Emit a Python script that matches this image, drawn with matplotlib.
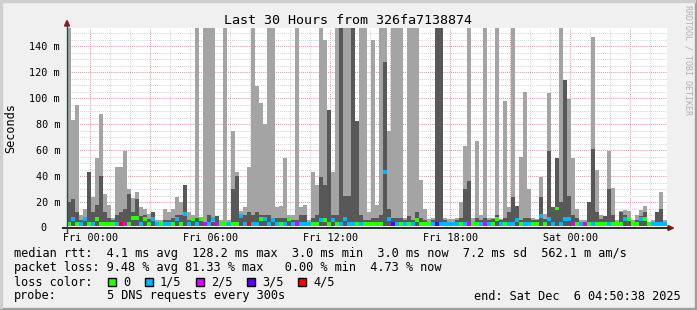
import numpy as np
import matplotlib
matplotlib.use("Agg")
import matplotlib.pyplot as plt
from matplotlib.patches import Rectangle, Polygon
from matplotlib.lines import Line2D

W, H = 697, 310
MONO = "DejaVu Sans Mono"
plt.rcParams["font.family"] = [MONO]

# one column = 12 minutes, graph starts Thu 22:50:38
STEP_H = 0.2
FRI_0 = 1 + 9.37 / 60

# smoke: top of outer band (max ping) and inner band, ms
smoke_max = [155, 83, 95, 10, 15, 43, 24, 54, 88, 26, 18, 8, 47, 47, 59, 30, 23, 28, 16, 15, 11, 12, 6, 6, 15,
             12, 15, 24, 20, 33, 12, 10, 155, 8, 155, 155, 155, 9, 6, 155, 6, 75, 43, 13, 16, 47, 155, 109, 96, 80,
             155, 155, 16, 17, 54, 10, 10, 155, 16, 18, 6, 43, 33, 155, 145, 91, 43, 155, 155, 155, 155, 155, 82, 155, 155,
             12, 145, 18, 155, 155, 75, 155, 155, 155, 8, 155, 155, 155, 37, 15, 7, 8, 155, 155, 8, 7, 7, 8, 20, 63,
             155, 8, 67, 10, 155, 8, 8, 155, 7, 98, 16, 155, 17, 55, 105, 30, 8, 7, 39, 11, 104, 16, 54, 155, 114,
             99, 54, 15, 6, 6, 20, 147, 45, 10, 9, 59, 31, 6, 13, 14, 13, 6, 10, 14, 17, 5, 6, 12, 28, 6]
smoke_mid = [20, 22, 12, 6, 8, 43, 12, 18, 40, 12, 8, 6, 10, 12, 15, 26, 12, 22, 9, 10, 7, 12, 5, 5, 6,
             6, 8, 10, 10, 33, 6, 6, 8, 6, 5, 10, 5, 9, 5, 5, 5, 30, 40, 9, 10, 12, 10, 12, 10, 10,
             10, 8, 8, 8, 8, 6, 6, 6, 10, 10, 5, 8, 10, 39, 33, 91, 10, 10, 155, 25, 25, 155, 82, 10, 6,
             6, 8, 8, 10, 128, 15, 8, 8, 8, 6, 9, 6, 12, 8, 6, 5, 6, 155, 155, 6, 5, 5, 6, 8, 30,
             36, 5, 8, 6, 8, 6, 7, 10, 6, 8, 12, 24, 17, 6, 8, 8, 6, 6, 24, 7, 59, 16, 54, 20, 114,
             25, 10, 8, 5, 5, 20, 61, 12, 7, 9, 30, 10, 5, 12, 10, 8, 5, 6, 9, 12, 5, 5, 12, 15, 5]
median = [3.3, 7, 3.3, 3.3, 7, 3.3, 3.3, 7, 3.3, 3.3, 3.3, 3.3, 3.3, 3.3, 3.3, 3.3, 8, 8, 3.3, 7, 3.3, 7, 3.3, 3.3, 3.3,
          3.3, 3.3, 7, 3.3, 11, 3.3, 7, 3.3, 7, 3.3, 3.3, 7, 3.3, 3.3, 3.3, 3.3, 3.3, 3.3, 9, 3.3, 3.3, 3.3, 3.3, 7, 7,
          3.3, 6, 3.3, 3.3, 3.3, 7, 3.3, 3.3, 3.3, 3.3, 3.3, 3.3, 3.3, 6, 6, 3.3, 6, 3.3, 3.3, 7, 3.3, 3.3, 3.3, 3.3, 3.3,
          3.3, 3.3, 3.3, 3.3, 43, 7, 3.3, 3.3, 3.3, 3.3, 3.3, 3.3, 6, 3.3, 3.3, 3.3, 3.3, 3.3, 3.3, 3.3, 3.3, 3.3, 3.3, 3.3, 3.3,
          3.3, 3.3, 3.3, 3.3, 3.3, 3.3, 3.3, 7, 3.3, 3.3, 3.3, 3.3, 6, 3.3, 3.3, 3.3, 3.3, 3.3, 9, 3.3, 7, 3.3, 15, 3.3, 7,
          7, 3.3, 3.3, 3.3, 3.3, 3.3, 3.3, 3.3, 3.3, 3.3, 3.3, 3.3, 3.3, 3.3, 7, 7, 3.3, 3.3, 7, 7, 3.3, 3.3, 3.3, 3.3, 3.3]
# lost pings out of 5 per column
loss = [0, 1, 0, 1, 1, 0, 1, 0, 0, 0, 0, 0, 1, 4, 2, 0, 0, 0, 1, 0, 0, 1, 1, 0, 1,
        1, 0, 1, 0, 1, 1, 0, 1, 0, 2, 1, 1, 2, 0, 0, 1, 0, 0, 1, 1, 4, 1, 1, 0, 1,
        1, 1, 1, 0, 1, 0, 1, 2, 1, 1, 1, 0, 0, 1, 0, 0, 1, 0, 1, 1, 1, 1, 0, 1, 0,
        0, 0, 0, 0, 1, 1, 3, 1, 0, 1, 0, 1, 0, 0, 0, 0, 1, 3, 1, 1, 1, 1, 1, 0, 1,
        2, 0, 0, 1, 2, 1, 0, 0, 1, 0, 1, 1, 1, 0, 1, 1, 0, 0, 1, 0, 1, 1, 0, 1, 1,
        1, 2, 0, 1, 2, 0, 1, 0, 0, 0, 1, 0, 0, 0, 1, 0, 0, 0, 1, 0, 0, 1, 1, 1, 1]

loss_colors = ["#26ff00", "#00b8ff", "#dd00ff", "#5e00ff", "#ff0000"]
loss_labels = ["0", "1/5", "2/5", "3/5", "4/5"]
xtick_labels = ["Fri 00:00", "Fri 06:00", "Fri 12:00", "Fri 18:00", "Sat 00:00"]
ytick_vals = [20, 40, 60, 80, 100, 120, 140]


def fx(x):
    return x / W


def fy(y):
    return 1 - y / H


fig = plt.figure(figsize=(W / 100, H / 100), dpi=100)
fig.patch.set_facecolor("#f0f0f0")
ax = fig.add_axes([fx(67), fy(228), 600 / W, 200 / H])
ax.set_facecolor("white")
for s in ax.spines.values():
    s.set_visible(False)
ax.set_xlim(0, 30)
ax.set_ylim(0, 200 / 1.3)

# grid: minor every hour / 5 ms, major every 3 h / 20 ms
for k in range(-1, 30):
    h = FRI_0 + k
    if 0 < h < 30:
        c = "#e49a9a" if k % 3 == 0 else "#d6d6d6"
        ax.axvline(h, color=c, lw=0.75, ls=(0, (1, 1)), zorder=1)
for v in range(5, 155, 5):
    c = "#e49a9a" if v % 20 == 0 else "#d6d6d6"
    ax.axhline(v, color=c, lw=0.75, ls=(0, (1, 1)), zorder=1)

t = np.arange(len(smoke_max)) * STEP_H
base = 1.9
ax.bar(t, np.array(smoke_max) - base, bottom=base, width=STEP_H, align="edge",
       color="#a4a4a4", lw=0, antialiased=False, zorder=2)
ax.bar(t, np.array(smoke_mid) - base, bottom=base, width=STEP_H, align="edge",
       color="#585858", lw=0, antialiased=False, zorder=3)
ax.bar(t, 3.0, bottom=np.array(median) - 1.5, width=STEP_H, align="edge",
       color=[loss_colors[k] for k in loss], lw=0, antialiased=False, zorder=4)

ax.set_xticks([FRI_0 + 6 * i for i in range(5)], xtick_labels)
ax.set_yticks(ytick_vals, [f"{v} m" for v in ytick_vals])
ax.tick_params(length=0, labelsize=7.3, pad=5)
ax.tick_params(axis="x", pad=3.5)

# axes + arrows
fig.add_artist(Line2D([fx(63), fx(669)], [fy(228), fy(228)], color="#1f2a26", lw=1.4))
fig.add_artist(Line2D([fx(67), fx(67)], [fy(232), fy(25)], color="#2c4d43", lw=1.0))
fig.add_artist(Polygon([(fx(668), fy(225.5)), (fx(673.5), fy(228)), (fx(668), fy(230.5))],
                       closed=True, color="#8b1a1a", transform=fig.transFigure))
fig.add_artist(Polygon([(fx(64.5), fy(26)), (fx(67), fy(20.5)), (fx(69.5), fy(26))],
                       closed=True, color="#8b1a1a", transform=fig.transFigure))

# frame shading
fig.add_artist(Rectangle((0, 0), 1, 2 / H, transform=fig.transFigure, color="#9e9e9e"))
fig.add_artist(Rectangle((1 - 2 / W, 0), 2 / W, 1, transform=fig.transFigure, color="#9e9e9e"))
fig.add_artist(Rectangle((0, 1 - 2 / H), 1 - 2 / W, 2 / H, transform=fig.transFigure, color="#cfcfcf"))
fig.add_artist(Rectangle((0, 2 / H), 2 / W, 1 - 4 / H, transform=fig.transFigure, color="#cfcfcf"))

fig.text(fx(46.5), fy(228), "0", ha="right", va="center", fontsize=7.3)
fig.text(fx(348), fy(20), "Last 30 Hours from 326fa7138874", ha="center", va="center", fontsize=9.6)
fig.text(fx(11), fy(128), "Seconds", ha="center", va="center", rotation=90, fontsize=8.6)
fig.text(fx(688), fy(60), "RRDTOOL / TOBI OETIKER", ha="center", va="center", rotation=270,
         fontsize=6, color="#b0b0b0")

fs = 8.6
fig.text(fx(14), fy(254), "median rtt:  4.1 ms avg  128.2 ms max  3.0 ms min  3.0 ms now  7.2 ms sd  562.1 m am/s",
         ha="left", va="center", fontsize=fs)
fig.text(fx(14), fy(268), "packet loss: 9.48 % avg 81.33 % max   0.00 % min  4.73 % now",
         ha="left", va="center", fontsize=fs)
fig.text(fx(14), fy(282), "loss color:", ha="left", va="center", fontsize=fs)
box_x = [108, 145, 196, 247, 298]
for bx, col, lab in zip(box_x, loss_colors, loss_labels):
    fig.add_artist(Rectangle((fx(bx), fy(286)), 8 / W, 8 / H, transform=fig.transFigure,
                             facecolor=col, edgecolor="black", lw=1.0))
    fig.text(fx(bx + 15), fy(282), lab, ha="left", va="center", fontsize=fs)
fig.text(fx(14), fy(296), "probe:", ha="left", va="center", fontsize=fs)
fig.text(fx(107), fy(296), "5 DNS requests every 300s", ha="left", va="center", fontsize=fs)
fig.text(fx(681), fy(296), "end: Sat Dec  6 04:50:38 2025", ha="right", va="center", fontsize=fs)

fig.savefig("out.png", dpi=100, facecolor=fig.get_facecolor())
